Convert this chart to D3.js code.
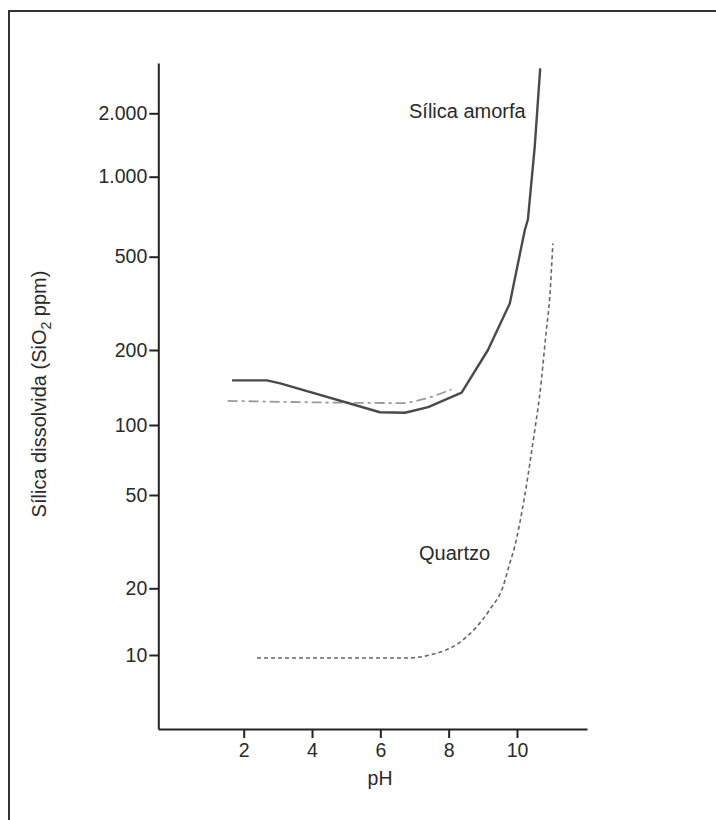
<!DOCTYPE html>
<html>
<head>
<meta charset="utf-8">
<script src="https://cdn.jsdelivr.net/npm/d3@7"></script>
<style>
  html, body { margin: 0; padding: 0; background: #fff; }
  svg { display: block; }
  text { font-family: "Liberation Sans", Arial, Helvetica, sans-serif; fill: #2a2a2a; }
</style>
</head>
<body>
<svg id="chart" width="716" height="820"></svg>
<script>
// ---- data ----
const xTicks = [2, 4, 6, 8, 10];
const yTicks = [10, 20, 50, 100, 200, 500, 1000, 2000];

const amorfaPH    = [1.66, 2.68, 3.07, 5.99, 6.72, 7.40, 8.38, 9.15, 9.79, 9.93, 10.23, 10.32, 10.52, 10.68];
const amorfaSiO2  = [151, 151, 147, 112.5, 112, 118, 135, 200, 316, 398, 630, 690, 1390, 3270];

const dashDotPH   = [1.53, 6.66, 7.26, 8.08];
const dashDotSiO2 = [125, 122.5, 127, 139];

const quartzoPH   = [2.39, 6.77, 7.45, 8.42, 9.20, 9.59, 9.79, 9.93, 10.22, 10.52, 10.66, 10.86, 10.96, 11.05];
const quartzoSiO2 = [9.7, 9.7, 10, 11.7, 16, 20.3, 25.6, 30, 49, 95, 130, 243, 337, 560];

const xLabel = "pH";
const amorfaLabel = "Sílica amorfa";
const quartzoLabel = "Quartzo";

// ---- chart ----
const svg = d3.select("#chart");

// outer frame (cropped at right/bottom like the reference)
svg.append("rect")
  .attr("x", 9).attr("y", 11)
  .attr("width", 900).attr("height", 1000)
  .attr("fill", "none").attr("stroke", "#333").attr("stroke-width", 2);

const x = d3.scaleLinear().domain([-0.5, 12.05]).range([158.3, 587]);
// hand-drawn log axis: piecewise log scale through the tick positions
const y = d3.scaleLog()
  .domain([4.67, 10, 20, 50, 100, 200, 500, 1000, 2000, 3470])
  .range([729, 655, 588.3, 495, 425, 350, 256.7, 176.7, 113.3, 63]);

const loc = d3.formatLocale({decimal: ",", thousands: ".", grouping: [3], currency: ["", ""]});
const fmt = loc.format(",");

const gx = svg.append("g")
  .attr("transform", "translate(0,729)")
  .call(d3.axisBottom(x).tickValues(xTicks).tickSizeInner(9).tickSizeOuter(0).tickPadding(5).tickFormat(d3.format("d")));
const gy = svg.append("g")
  .attr("transform", "translate(158.3,0)")
  .call(d3.axisLeft(y).tickValues(yTicks).tickSizeInner(9).tickSizeOuter(0).tickPadding(2).tickFormat(fmt));

[gx, gy].forEach(g => {
  g.select(".domain").attr("stroke", "#222").attr("stroke-width", 2);
  g.selectAll(".tick line").attr("stroke", "#222").attr("stroke-width", 2);
  g.selectAll(".tick text").attr("font-size", 19.5).attr("fill", "#2a2a2a")
    .attr("font-family", "'Liberation Sans', Arial, sans-serif");
});

const line = d3.line().x(d => x(d[0])).y(d => y(d[1]));
const lineSmooth = d3.line().x(d => x(d[0])).y(d => y(d[1])).curve(d3.curveMonotoneX);

svg.append("path")
  .datum(d3.zip(dashDotPH, dashDotSiO2))
  .attr("d", lineSmooth)
  .attr("fill", "none").attr("stroke", "#9a9a9a").attr("stroke-width", 1.8)
  .attr("stroke-dasharray", "10,4,3,4");

svg.append("path")
  .datum(d3.zip(amorfaPH, amorfaSiO2))
  .attr("d", line)
  .attr("fill", "none").attr("stroke", "#4a4a4a").attr("stroke-width", 2.4)
  .attr("stroke-linejoin", "round");

svg.append("path")
  .datum(d3.zip(quartzoPH, quartzoSiO2))
  .attr("d", lineSmooth)
  .attr("fill", "none").attr("stroke", "#666").attr("stroke-width", 1.6)
  .attr("stroke-dasharray", "4,3");

// labels
svg.append("text").attr("x", 409).attr("y", 118).attr("font-size", 20).text(amorfaLabel);
svg.append("text").attr("x", 419).attr("y", 560).attr("font-size", 20).text(quartzoLabel);
svg.append("text").attr("x", 380).attr("y", 785).attr("text-anchor", "middle").attr("font-size", 19.5).text(xLabel);

const yl = svg.append("text")
  .attr("transform", "translate(46,394) rotate(-90)")
  .attr("text-anchor", "middle").attr("font-size", 20);
yl.append("tspan").text("Sílica dissolvida (SiO");
yl.append("tspan").attr("font-size", 14).attr("dy", 5).text("2");
yl.append("tspan").attr("dy", -5).text(" ppm)");
</script>
</body>
</html>
